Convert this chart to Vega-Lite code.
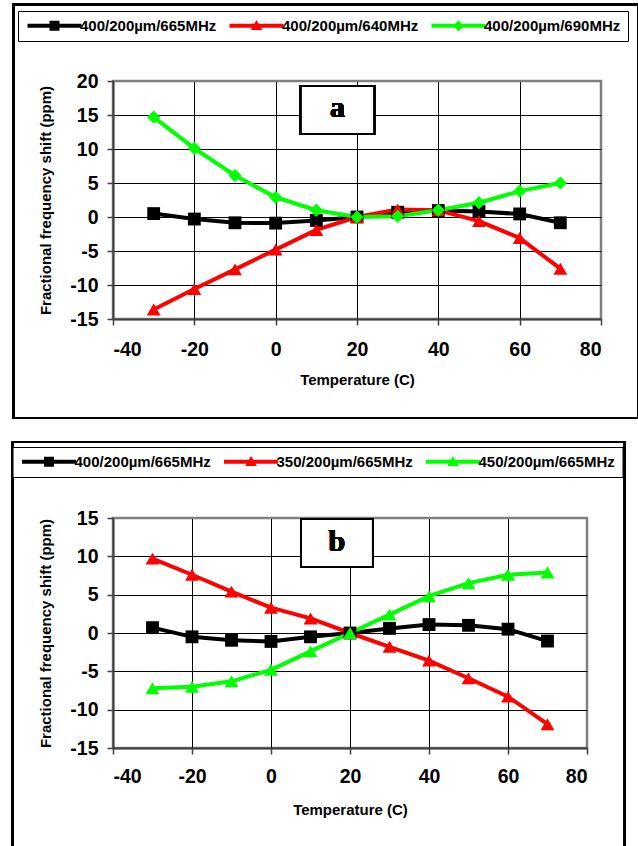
{
  "$schema": "https://vega.github.io/schema/vega-lite/v6.json",
  "background": "white",
  "padding": {"left": 10, "top": 1, "right": 0, "bottom": 0},
  "spacing": 18,
  "config": {
    "font": "Liberation Sans",
    "view": {"stroke": "#808080", "strokeWidth": 2.5},
    "axis": {
      "grid": true, "gridColor": "#000000", "gridWidth": 1, "gridOpacity": 1,
      "domainColor": "#404040", "domainWidth": 2,
      "tickColor": "#404040", "tickWidth": 1.5, "tickSize": 6,
      "labelFont": "Liberation Sans", "labelFontWeight": "bold", "labelFontSize": 19.5, "labelColor": "#000000",
      "labelOverlap": false, "labelBound": false,
      "titleFont": "Liberation Sans", "titleFontWeight": "bold", "titleFontSize": 15, "titleColor": "#000000",
      "labelExpr": "'' + datum.value"
    }
  },
  "datasets": {
    "a": [
      {"T": -30, "v": 0.5, "s": "400/200µm/665MHz"}, {"T": -20, "v": -0.3, "s": "400/200µm/665MHz"}, {"T": -10, "v": -0.85, "s": "400/200µm/665MHz"}, {"T": 0, "v": -0.9, "s": "400/200µm/665MHz"}, {"T": 10, "v": -0.5, "s": "400/200µm/665MHz"}, {"T": 20, "v": 0, "s": "400/200µm/665MHz"}, {"T": 30, "v": 0.7, "s": "400/200µm/665MHz"}, {"T": 40, "v": 0.95, "s": "400/200µm/665MHz"}, {"T": 50, "v": 0.8, "s": "400/200µm/665MHz"}, {"T": 60, "v": 0.45, "s": "400/200µm/665MHz"}, {"T": 70, "v": -0.85, "s": "400/200µm/665MHz"},
      {"T": -30, "v": -13.6, "s": "400/200µm/640MHz"}, {"T": -20, "v": -10.6, "s": "400/200µm/640MHz"}, {"T": -10, "v": -7.7, "s": "400/200µm/640MHz"}, {"T": 0, "v": -4.8, "s": "400/200µm/640MHz"}, {"T": 10, "v": -1.9, "s": "400/200µm/640MHz"}, {"T": 20, "v": 0, "s": "400/200µm/640MHz"}, {"T": 30, "v": 1.1, "s": "400/200µm/640MHz"}, {"T": 40, "v": 1.0, "s": "400/200µm/640MHz"}, {"T": 50, "v": -0.6, "s": "400/200µm/640MHz"}, {"T": 60, "v": -3.1, "s": "400/200µm/640MHz"}, {"T": 70, "v": -7.6, "s": "400/200µm/640MHz"},
      {"T": -30, "v": 14.7, "s": "400/200µm/690MHz"}, {"T": -20, "v": 10.1, "s": "400/200µm/690MHz"}, {"T": -10, "v": 6.1, "s": "400/200µm/690MHz"}, {"T": 0, "v": 2.9, "s": "400/200µm/690MHz"}, {"T": 10, "v": 1.0, "s": "400/200µm/690MHz"}, {"T": 20, "v": 0, "s": "400/200µm/690MHz"}, {"T": 30, "v": 0.1, "s": "400/200µm/690MHz"}, {"T": 40, "v": 1.0, "s": "400/200µm/690MHz"}, {"T": 50, "v": 2.1, "s": "400/200µm/690MHz"}, {"T": 60, "v": 3.8, "s": "400/200µm/690MHz"}, {"T": 70, "v": 5.0, "s": "400/200µm/690MHz"}
    ],
    "b": [
      {"T": -30, "v": 0.7, "s": "400/200µm/665MHz"}, {"T": -20, "v": -0.5, "s": "400/200µm/665MHz"}, {"T": -10, "v": -0.95, "s": "400/200µm/665MHz"}, {"T": 0, "v": -1.1, "s": "400/200µm/665MHz"}, {"T": 10, "v": -0.5, "s": "400/200µm/665MHz"}, {"T": 20, "v": 0, "s": "400/200µm/665MHz"}, {"T": 30, "v": 0.6, "s": "400/200µm/665MHz"}, {"T": 40, "v": 1.1, "s": "400/200µm/665MHz"}, {"T": 50, "v": 1.0, "s": "400/200µm/665MHz"}, {"T": 60, "v": 0.5, "s": "400/200µm/665MHz"}, {"T": 70, "v": -1.05, "s": "400/200µm/665MHz"},
      {"T": -30, "v": 9.7, "s": "350/200µm/665MHz"}, {"T": -20, "v": 7.6, "s": "350/200µm/665MHz"}, {"T": -10, "v": 5.4, "s": "350/200µm/665MHz"}, {"T": 0, "v": 3.3, "s": "350/200µm/665MHz"}, {"T": 10, "v": 1.9, "s": "350/200µm/665MHz"}, {"T": 20, "v": 0, "s": "350/200µm/665MHz"}, {"T": 30, "v": -1.8, "s": "350/200µm/665MHz"}, {"T": 40, "v": -3.6, "s": "350/200µm/665MHz"}, {"T": 50, "v": -5.9, "s": "350/200µm/665MHz"}, {"T": 60, "v": -8.3, "s": "350/200µm/665MHz"}, {"T": 70, "v": -11.9, "s": "350/200µm/665MHz"},
      {"T": -30, "v": -7.2, "s": "450/200µm/665MHz"}, {"T": -20, "v": -7.0, "s": "450/200µm/665MHz"}, {"T": -10, "v": -6.3, "s": "450/200µm/665MHz"}, {"T": 0, "v": -4.8, "s": "450/200µm/665MHz"}, {"T": 10, "v": -2.4, "s": "450/200µm/665MHz"}, {"T": 20, "v": 0, "s": "450/200µm/665MHz"}, {"T": 30, "v": 2.4, "s": "450/200µm/665MHz"}, {"T": 40, "v": 4.8, "s": "450/200µm/665MHz"}, {"T": 50, "v": 6.5, "s": "450/200µm/665MHz"}, {"T": 60, "v": 7.6, "s": "450/200µm/665MHz"}, {"T": 70, "v": 7.9, "s": "450/200µm/665MHz"}
    ]
  },
  "resolve": {
    "scale": {"x": "independent", "y": "independent", "color": "independent", "fill": "independent", "shape": "independent"},
    "legend": {"color": "independent", "fill": "independent", "shape": "independent"}
  },
  "vconcat": [
    {
      "width": 488,
      "height": 238,
      "data": {"name": "a"},
      "layer": [
        {
          "mark": {"type": "rect", "filled": false, "stroke": "#000000", "strokeWidth": 2, "clip": false},
          "encoding": {
            "x": {"datum": -64.5, "type": "quantitative", "scale": {"domain": [-40, 80], "nice": false}},
            "x2": {"datum": 89.1},
            "y": {"datum": 31.3, "type": "quantitative", "scale": {"domain": [-15, 20], "nice": false}},
            "y2": {"datum": -29.56}
          }
        },
        {
          "mark": {"type": "line", "strokeWidth": 4},
          "encoding": {
            "x": {"field": "T", "type": "quantitative", "scale": {"domain": [-40, 80], "nice": false},
                  "axis": {"values": [-40, -20, 0, 20, 40, 60, 80], "tickCount": 20, "title": "Temperature (C)", "labelPadding": 15, "titlePadding": 14, "labelOverlap": false,
                           "gridColor": {"condition": {"test": "datum.value >= 80", "value": "#808080"}, "value": "#000000"}}},
            "y": {"field": "v", "type": "quantitative", "scale": {"domain": [-15, 20], "nice": false},
                  "axis": {"values": [-15, -10, -5, 0, 5, 10, 15, 20], "tickCount": 20, "title": "Fractional frequency shift (ppm)", "labelPadding": 9, "titlePadding": 16, "labelOverlap": false,
                           "gridColor": {"condition": {"test": "datum.value >= 20", "value": "#808080"}, "value": "#000000"}}},
            "color": {"field": "s", "type": "nominal", "legend": null,
                      "scale": {"domain": ["400/200µm/640MHz", "400/200µm/665MHz", "400/200µm/690MHz"], "range": ["#ff0000", "#000000", "#00ff00"]}}
          }
        },
        {
          "transform": [{"filter": {"field": "s", "equal": "400/200µm/665MHz"}}],
          "mark": {"type": "point", "shape": "square", "filled": true, "size": 165, "opacity": 1},
          "encoding": {
            "x": {"field": "T", "type": "quantitative"},
            "y": {"field": "v", "type": "quantitative"},
            "color": {"field": "s", "type": "nominal", "legend": null}
          }
        },
        {
          "transform": [{"filter": {"field": "s", "equal": "400/200µm/640MHz"}}],
          "mark": {"type": "point", "shape": "triangle-up", "filled": true, "size": 190, "opacity": 1},
          "encoding": {
            "x": {"field": "T", "type": "quantitative"},
            "y": {"field": "v", "type": "quantitative"},
            "color": {"field": "s", "type": "nominal", "legend": null}
          }
        },
        {
          "transform": [{"filter": {"field": "s", "equal": "400/200µm/690MHz"}}],
          "mark": {"type": "point", "shape": "diamond", "filled": true, "size": 175, "opacity": 1},
          "encoding": {
            "x": {"field": "T", "type": "quantitative"},
            "y": {"field": "v", "type": "quantitative"},
            "color": {"field": "s", "type": "nominal", "legend": null}
          }
        },
        {
          "mark": {"type": "point", "filled": true, "opacity": 0},
          "encoding": {
            "x": {"field": "T", "type": "quantitative"},
            "y": {"field": "v", "type": "quantitative"},
            "fill": {"field": "s", "type": "nominal",
                      "scale": {"domain": ["400/200µm/665MHz", "400/200µm/640MHz", "400/200µm/690MHz"], "range": ["#000000", "#ff0000", "#00ff00"]},
                      "legend": {"orient": "none", "legendX": -95, "legendY": -70, "direction": "horizontal", "title": null,
                                 "strokeColor": "#000000", "fillColor": "#ffffff", "padding": 7,
                                 "symbolSize": 100, "symbolStrokeWidth": 0, "symbolOpacity": 1, "symbolOffset": 22, "labelOffset": 18,
                                 "labelFont": "Liberation Sans", "labelFontSize": 15, "labelFontWeight": "bold", "labelColor": "#000000", "columnPadding": 10}},
            "shape": {"field": "s", "type": "nominal",
                      "scale": {"domain": ["400/200µm/665MHz", "400/200µm/640MHz", "400/200µm/690MHz"],
                                "range": ["M-5.4,-0.4H5.4V0.4H-5.4Z M-1,-1H1V1H-1Z", "M-5.4,-0.4H5.4V0.4H-5.4Z M0,-1.15L1.15,0.85H-1.15Z", "M-5.4,-0.4H5.4V0.4H-5.4Z M0,-1.1L1,0L0,1.1L-1,0Z"]},
                      "legend": {"orient": "none", "legendX": -95, "legendY": -70, "direction": "horizontal", "title": null,
                                 "strokeColor": "#000000", "fillColor": "#ffffff", "padding": 7,
                                 "symbolSize": 100, "symbolStrokeWidth": 0, "symbolOpacity": 1, "symbolOffset": 22, "labelOffset": 18,
                                 "labelFont": "Liberation Sans", "labelFontSize": 15, "labelFontWeight": "bold", "labelColor": "#000000", "columnPadding": 10}}
          }
        },
        {
          "mark": {"type": "rect", "fill": "#ffffff", "stroke": "#000000", "strokeWidth": 2},
          "encoding": {
            "x": {"datum": 6.2, "type": "quantitative"},
            "x2": {"datum": 24.2},
            "y": {"datum": 19.26, "type": "quantitative"},
            "y2": {"datum": 12.2}
          }
        },
        {
          "mark": {"type": "text", "font": "Liberation Serif", "fontWeight": "bold", "fontSize": 30, "align": "center", "baseline": "middle", "color": "#000000"},
          "encoding": {
            "x": {"datum": 15.2, "type": "quantitative"},
            "y": {"datum": 16.0, "type": "quantitative"},
            "text": {"value": "a"}
          }
        }
      ]
    },
    {
      "width": 474,
      "height": 230,
      "data": {"name": "b"},
      "layer": [
        {
          "mark": {"type": "rect", "filled": false, "stroke": "#000000", "strokeWidth": 2, "clip": false},
          "encoding": {
            "x": {"datum": -65.4, "type": "quantitative", "scale": {"domain": [-40, 80], "nice": false}},
            "x2": {"datum": 89.6},
            "y": {"datum": 24.9, "type": "quantitative", "scale": {"domain": [-15, 15], "nice": false}},
            "y2": {"datum": -29.3}
          }
        },
        {
          "mark": {"type": "line", "strokeWidth": 4},
          "encoding": {
            "x": {"field": "T", "type": "quantitative", "scale": {"domain": [-40, 80], "nice": false},
                  "axis": {"values": [-40, -20, 0, 20, 40, 60, 80], "tickCount": 20, "title": "Temperature (C)", "labelPadding": 13, "titlePadding": 17, "labelOverlap": false,
                           "gridColor": {"condition": {"test": "datum.value >= 80", "value": "#808080"}, "value": "#000000"}}},
            "y": {"field": "v", "type": "quantitative", "scale": {"domain": [-15, 15], "nice": false},
                  "axis": {"values": [-15, -10, -5, 0, 5, 10, 15], "tickCount": 20, "title": "Fractional frequency shift (ppm)", "labelPadding": 9, "titlePadding": 16, "labelOverlap": false,
                           "gridColor": {"condition": {"test": "datum.value >= 15", "value": "#808080"}, "value": "#000000"}}},
            "color": {"field": "s", "type": "nominal", "legend": null,
                      "scale": {"domain": ["350/200µm/665MHz", "400/200µm/665MHz", "450/200µm/665MHz"], "range": ["#ff0000", "#000000", "#00ff00"]}}
          }
        },
        {
          "transform": [{"filter": {"field": "s", "equal": "400/200µm/665MHz"}}],
          "mark": {"type": "point", "shape": "square", "filled": true, "size": 165, "opacity": 1},
          "encoding": {
            "x": {"field": "T", "type": "quantitative"},
            "y": {"field": "v", "type": "quantitative"},
            "color": {"field": "s", "type": "nominal", "legend": null}
          }
        },
        {
          "transform": [{"filter": {"field": "s", "oneOf": ["350/200µm/665MHz", "450/200µm/665MHz"]}}],
          "mark": {"type": "point", "shape": "triangle-up", "filled": true, "size": 190, "opacity": 1},
          "encoding": {
            "x": {"field": "T", "type": "quantitative"},
            "y": {"field": "v", "type": "quantitative"},
            "color": {"field": "s", "type": "nominal", "legend": null}
          }
        },
        {
          "mark": {"type": "point", "filled": true, "opacity": 0},
          "encoding": {
            "x": {"field": "T", "type": "quantitative"},
            "y": {"field": "v", "type": "quantitative"},
            "fill": {"field": "s", "type": "nominal",
                      "scale": {"domain": ["400/200µm/665MHz", "350/200µm/665MHz", "450/200µm/665MHz"], "range": ["#000000", "#ff0000", "#00ff00"]},
                      "legend": {"orient": "none", "legendX": -100.5, "legendY": -71, "direction": "horizontal", "title": null,
                                 "strokeColor": "#000000", "fillColor": "#ffffff", "padding": 7,
                                 "symbolSize": 100, "symbolStrokeWidth": 0, "symbolOpacity": 1, "symbolOffset": 22, "labelOffset": 18,
                                 "labelFont": "Liberation Sans", "labelFontSize": 15, "labelFontWeight": "bold", "labelColor": "#000000", "columnPadding": 10}},
            "shape": {"field": "s", "type": "nominal",
                      "scale": {"domain": ["400/200µm/665MHz", "350/200µm/665MHz", "450/200µm/665MHz"],
                                "range": ["M-5.4,-0.4H5.4V0.4H-5.4Z M-1,-1H1V1H-1Z", "M-5.4,-0.4H5.4V0.4H-5.4Z M0,-1.15L1.15,0.85H-1.15Z", "M-5.4,-0.4H5.4V0.4H-5.4Z M0,-1.15L1.15,0.85H-1.15Z"]},
                      "legend": {"orient": "none", "legendX": -100.5, "legendY": -71, "direction": "horizontal", "title": null,
                                 "strokeColor": "#000000", "fillColor": "#ffffff", "padding": 7,
                                 "symbolSize": 100, "symbolStrokeWidth": 0, "symbolOpacity": 1, "symbolOffset": 22, "labelOffset": 18,
                                 "labelFont": "Liberation Sans", "labelFontSize": 15, "labelFontWeight": "bold", "labelColor": "#000000", "columnPadding": 10}}
          }
        },
        {
          "mark": {"type": "rect", "fill": "#ffffff", "stroke": "#000000", "strokeWidth": 2},
          "encoding": {
            "x": {"datum": 7.6, "type": "quantitative"},
            "x2": {"datum": 25.8},
            "y": {"datum": 14.87, "type": "quantitative"},
            "y2": {"datum": 8.6}
          }
        },
        {
          "mark": {"type": "text", "font": "Liberation Serif", "fontWeight": "bold", "fontSize": 30, "align": "center", "baseline": "middle", "color": "#000000"},
          "encoding": {
            "x": {"datum": 16.7, "type": "quantitative"},
            "y": {"datum": 11.9, "type": "quantitative"},
            "text": {"value": "b"}
          }
        }
      ]
    }
  ]
}
